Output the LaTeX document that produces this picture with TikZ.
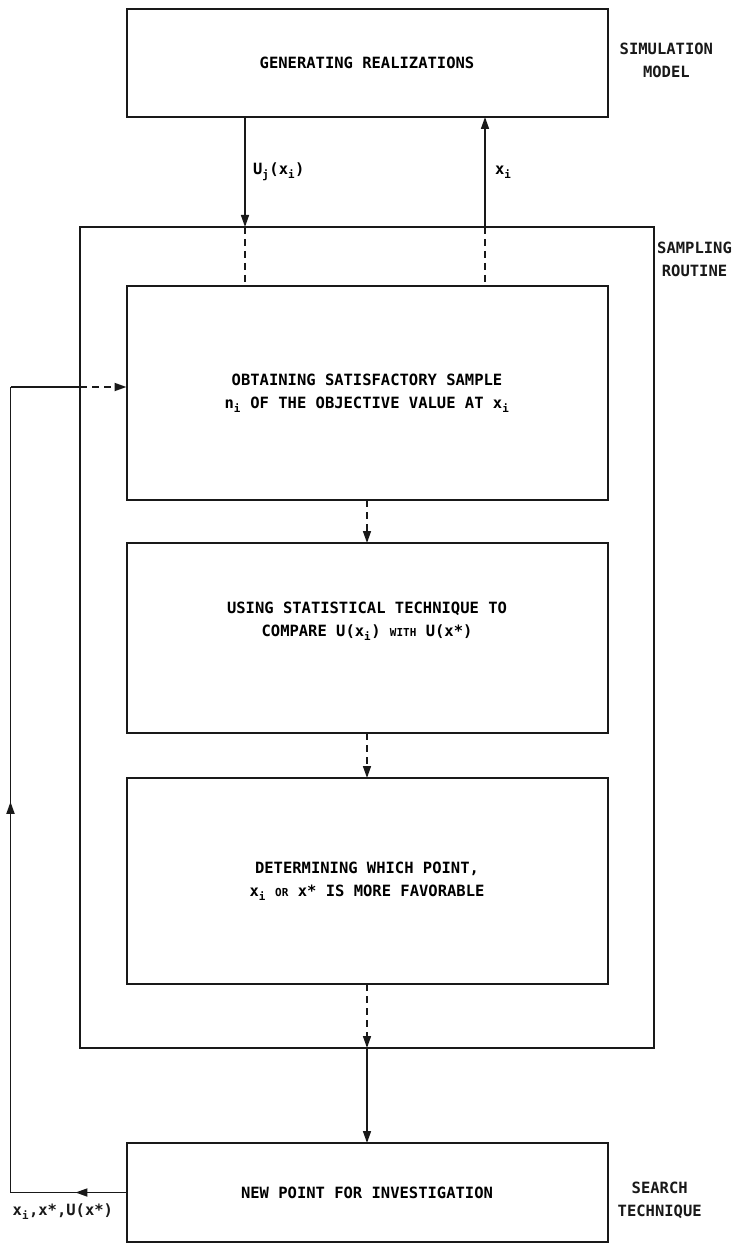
\documentclass[tikz,border=0pt]{standalone}
\usepackage{fontspec}
\newfontfamily\printfont{DejaVu Sans Mono}
\usetikzlibrary{positioning, arrows.meta, decorations.markings}
\newcommand{\smallword}[1]{{\fontsize{11}{13}\selectfont #1}}

\begin{document}
\begin{tikzpicture}[
        >={Triangle[length=12pt,width=8pt]},
        node distance=45pt and 12pt,
        font=\printfont\bfseries\fontsize{15.5}{23}\selectfont
    ]
        % Ink colour of the scanned figure
        \definecolor{scanink}{RGB}{25,25,25}

        % Define node styles
        \tikzstyle{stage}=[
            draw=scanink,
            line width=2pt,
            outer sep=0pt,
            minimum width=481pt,
            align=center,
            inner sep=6pt
        ]
        \tikzstyle{outerbox}=[draw=scanink, line width=2pt, outer sep=0pt, minimum width=574pt, minimum height=821pt]
        \tikzstyle{sidelabel}=[align=center, inner sep=2pt, text=scanink]
        \tikzstyle{flowarrow}=[->, line width=1.5pt, draw=scanink]
        \tikzstyle{dashflow}=[flowarrow, dash pattern=on 7pt off 5pt]
        \tikzstyle{dashlink}=[line width=1.5pt, draw=scanink, dash pattern=on 7pt off 5pt]
        \tikzstyle{feedline}=[line width=1.8pt, draw=scanink]
        \tikzset{midarrow/.style={postaction={decorate},
            decoration={markings, mark=at position #1 with {\arrow{Triangle[length=12pt,width=8pt]}}}}}

        \useasboundingbox (0,0) rectangle (734pt,-1246pt);

        % --- Simulation model (top) ---
        \node[stage, minimum height=108pt] (gen) at (367pt,-63pt) {GENERATING REALIZATIONS};

        % --- Sampling routine (column of stages) ---
        \node[stage, minimum height=214pt, below=169pt of gen] (sample)
            {OBTAINING SATISFACTORY SAMPLE\\n\textsubscript{i} OF THE OBJECTIVE VALUE AT x\textsubscript{i}};
        \node[stage, minimum height=190pt, below=43pt of sample] (compare)
            {USING STATISTICAL TECHNIQUE TO\\COMPARE U(x\textsubscript{i}) \smallword{WITH} U(x*)\\[14pt]};
        \node[stage, minimum height=206pt, below=45pt of compare] (decide)
            {DETERMINING WHICH POINT,\\x\textsubscript{i} \smallword{OR} x* IS MORE FAVORABLE};
        % frame round the three stages
        \node[outerbox] (routine) at (367pt,-637.5pt) {};

        % --- Search technique (bottom) ---
        \node[stage, minimum height=99pt, below=159pt of decide] (newpt) {NEW POINT FOR INVESTIGATION};

        % --- Side labels ---
        \node[sidelabel, right=10pt of gen, yshift=3pt] (simlbl) {SIMULATION\\MODEL};
        \node[sidelabel, anchor=north west] (samplbl) at ([xshift=1pt,yshift=-13pt]routine.north east) {SAMPLING\\ROUTINE};
        \node[sidelabel, right=8pt of newpt, yshift=-8pt] (srchlbl) {SEARCH\\TECHNIQUE};

        % --- Exchange with the simulation model ---
        \coordinate (uin) at ([xshift=-122pt]gen.south);
        \coordinate (xout) at ([xshift=118pt]gen.south);
        \draw[flowarrow] (uin) -- (uin |- routine.north)
            node[midway, right=4pt] {U\textsubscript{j}(x\textsubscript{i})};
        \draw[flowarrow] (xout |- routine.north) -- (xout)
            node[midway, right=6pt] {x\textsubscript{i}};
        \draw[dashlink] (uin |- routine.north) -- (uin |- sample.north);
        \draw[dashlink] (xout |- routine.north) -- (xout |- sample.north);

        % --- Flow through the stages ---
        \draw[dashflow] (sample) -- (compare);
        \draw[dashflow] (compare) -- (decide);
        \draw[dashflow] (decide) -- (decide |- routine.south);
        \draw[flowarrow] (routine.south) -- (newpt);

        % --- Feedback loop to the sampling routine ---
        \coordinate[left=116pt of newpt.west] (fbbot);
        \coordinate (fbin) at ([yshift=6pt]sample.west);
        \coordinate (fbtop) at (fbbot |- fbin);
        \draw[feedline, midarrow=0.44] (newpt.west) -- (fbbot);
        \draw[feedline, midarrow=0.485] (fbbot) -- (fbtop);
        \draw[feedline] (fbtop) -- (fbtop -| routine.west);
        \draw[dashflow, line width=1.8pt] (fbtop -| routine.west) -- (fbin);
        \node[sidelabel, anchor=north west] (fblbl) at ([yshift=-9pt]fbbot) {x\textsubscript{i},x*,U(x*)};

\end{tikzpicture}
\end{document}
